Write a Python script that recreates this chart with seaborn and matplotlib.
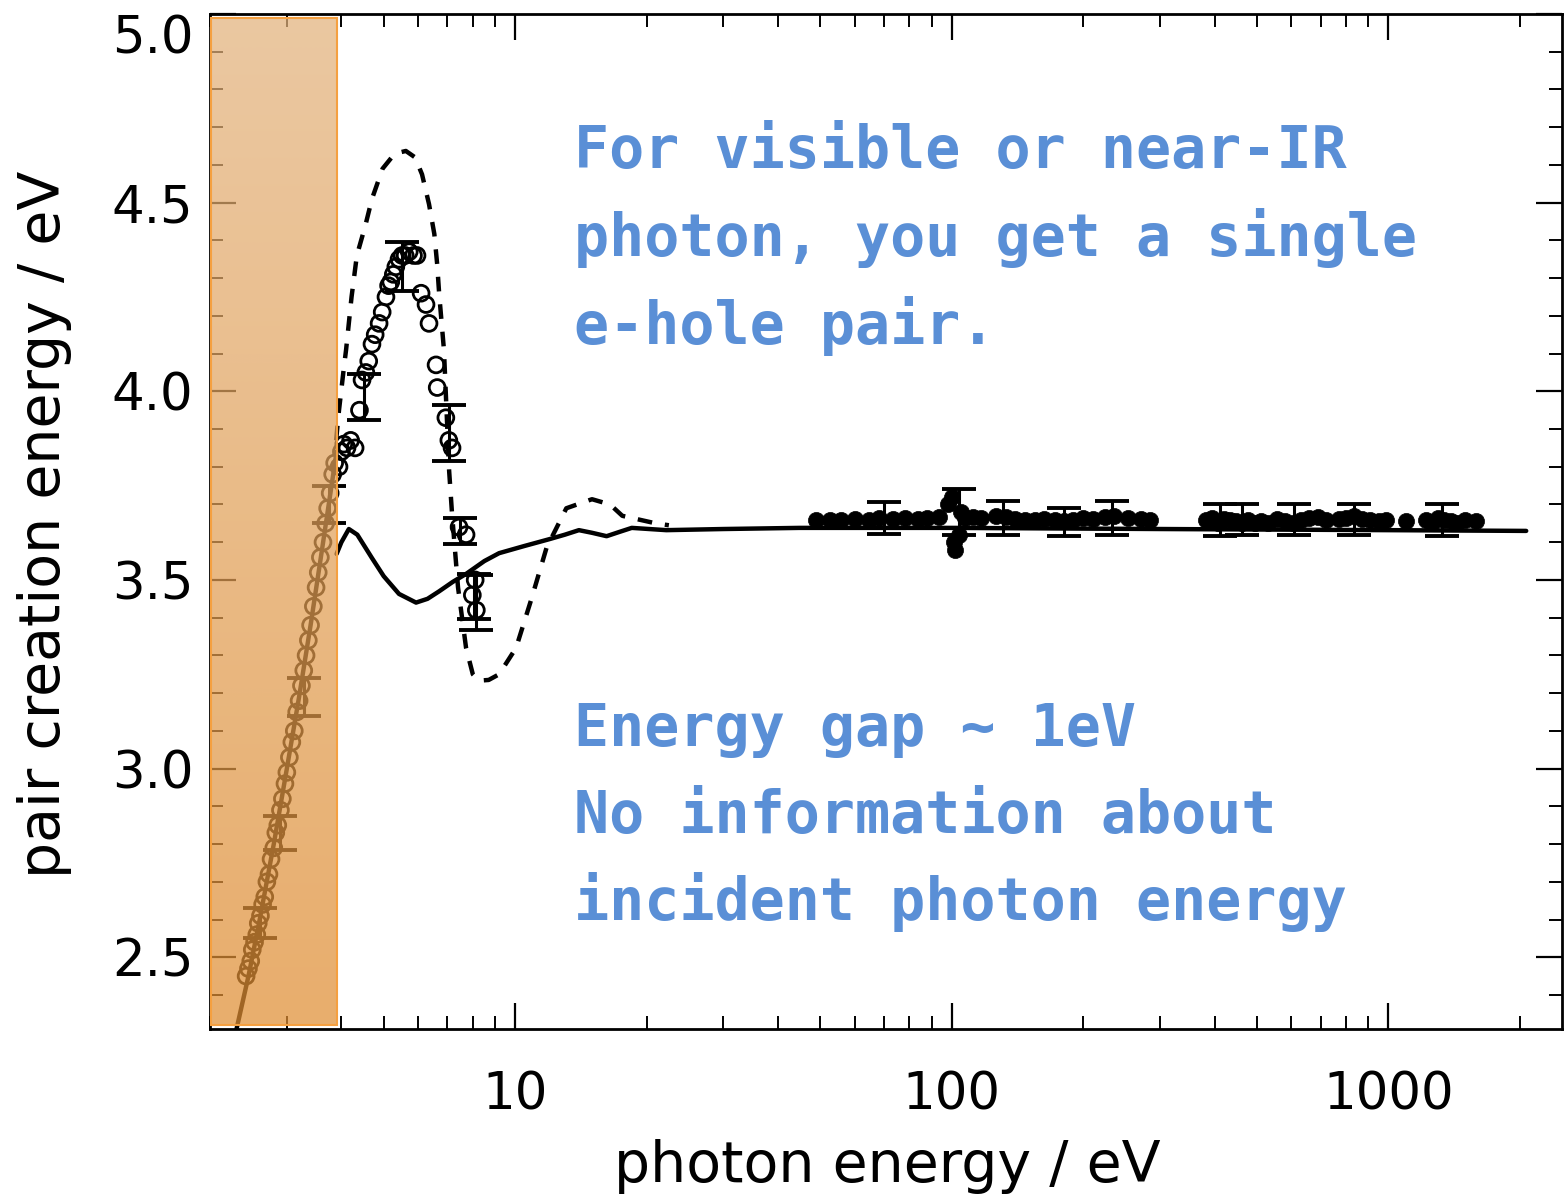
import numpy as np
import pandas as pd
import matplotlib
matplotlib.use("Agg")
import matplotlib.pyplot as plt
import seaborn as sns
from matplotlib.ticker import LogLocator, NullFormatter, MultipleLocator
from matplotlib.patches import Rectangle

# ---------------- data ----------------
# single-pair regime (pair energy ~ photon energy), inside the shaded band
gap_line_x = [2.27, 2.45, 2.6, 2.8, 3.0, 3.2, 3.4, 3.6, 3.9]
gap_line_y = [2.28, 2.45, 2.60, 2.80, 3.00, 3.19, 3.38, 3.57, 3.84]

# solid theory curve
theory_x = [3.9, 4.0, 4.16, 4.35, 4.7, 5.0, 5.42, 5.93, 6.3, 6.7, 7.2, 7.72, 8.5,
            9.19, 10.5, 11.97, 13.0, 14.0, 15.0, 16.2, 17.3, 18.5, 22.2, 30, 44.8,
            100, 300, 1000, 2070]
theory_y = [3.569, 3.60, 3.635, 3.62, 3.558, 3.51, 3.463, 3.44, 3.45, 3.47, 3.495, 3.516, 3.55,
            3.571, 3.59, 3.608, 3.62, 3.632, 3.625, 3.616, 3.627, 3.638, 3.632, 3.635, 3.638,
            3.638, 3.635, 3.632, 3.63]

# dashed theory curve
dashed_x = [3.89, 3.95, 4.05, 4.1, 4.22, 4.34, 4.54, 4.70, 4.97, 5.3, 5.62, 5.9, 6.12,
            6.35, 6.53, 6.63, 6.70, 6.87, 7.06, 7.17, 7.4, 7.72, 8.0, 8.26, 8.7, 9.19,
            10.05, 10.9, 11.8, 13.1, 15.0, 16.5, 17.6, 21.0, 22.5]
dashed_y = [3.87, 3.95, 4.06, 4.11, 4.25, 4.36, 4.44, 4.51, 4.59, 4.63, 4.637, 4.62, 4.575,
            4.496, 4.417, 4.336, 4.257, 4.11, 3.79, 3.675, 3.48, 3.32, 3.25, 3.233, 3.235, 3.25,
            3.32, 3.45, 3.585, 3.69, 3.714, 3.70, 3.67, 3.65, 3.645]

# open-circle measurements
open_x = [2.42, 2.45, 2.48, 2.50, 2.53, 2.56, 2.58, 2.61, 2.64, 2.67, 2.70, 2.73, 2.76,
          2.80, 2.83, 2.86, 2.90, 2.93, 2.97, 3.00, 3.04, 3.08, 3.12, 3.16, 3.20, 3.24,
          3.28, 3.32, 3.36, 3.40, 3.45, 3.50, 3.54, 3.58, 3.63, 3.68, 3.72, 3.77, 3.82,
          3.86, 3.95, 4.00, 4.05, 4.12, 4.20, 4.30, 4.40, 4.46, 4.55, 4.62, 4.70, 4.78,
          4.88, 4.96, 5.06, 5.13, 5.19, 5.26, 5.33, 5.42, 5.51, 5.60, 5.72, 5.85, 5.96,
          6.09, 6.25, 6.35, 6.59, 6.63, 6.94, 7.05, 7.17, 7.44, 7.72, 7.98, 8.10, 8.15]
open_y = [2.45, 2.47, 2.49, 2.52, 2.54, 2.56, 2.59, 2.61, 2.64, 2.66, 2.70, 2.72, 2.76,
          2.79, 2.83, 2.85, 2.89, 2.92, 2.96, 2.99, 3.03, 3.07, 3.10, 3.15, 3.18, 3.22,
          3.26, 3.30, 3.34, 3.38, 3.43, 3.48, 3.52, 3.56, 3.60, 3.65, 3.69, 3.73, 3.78,
          3.81, 3.80, 3.84, 3.86, 3.85, 3.87, 3.85, 3.95, 4.03, 4.05, 4.08, 4.125, 4.15,
          4.18, 4.21, 4.25, 4.28, 4.29, 4.31, 4.33, 4.35, 4.36, 4.36, 4.37, 4.36, 4.36,
          4.26, 4.23, 4.18, 4.07, 4.01, 3.93, 3.87, 3.85, 3.64, 3.62, 3.46, 3.50, 3.42]

# filled-circle measurements (high photon energy)
filled_x = [49, 52.6, 55.8, 60, 64.5, 68, 73.5, 78, 83.6, 88, 93.7, 98, 100.3, 101, 102,
            103.7, 105, 107, 112, 117, 126, 133, 140, 147, 155, 163, 172, 181, 190, 200,
            211, 225, 236, 254, 272, 284,
            383, 395, 408, 420, 433, 447, 462, 478, 495, 512, 530, 555, 580, 605, 630,
            660, 690, 720, 770, 800, 835, 870, 910, 950, 990, 1100, 1220, 1260, 1300,
            1340, 1390, 1440, 1500, 1590]
filled_y = [3.660, 3.658, 3.660, 3.662, 3.660, 3.664, 3.662, 3.665, 3.662, 3.664, 3.666, 3.700,
            3.720, 3.600, 3.580, 3.620, 3.680, 3.665, 3.668, 3.664, 3.670, 3.668, 3.662, 3.660,
            3.658, 3.662, 3.660, 3.656, 3.660, 3.664, 3.662, 3.666, 3.670, 3.665, 3.662, 3.660,
            3.660, 3.665, 3.650, 3.662, 3.660, 3.655, 3.650, 3.660, 3.652, 3.655, 3.650, 3.662,
            3.655, 3.650, 3.660, 3.665, 3.668, 3.660, 3.662, 3.665, 3.670, 3.662, 3.660, 3.655,
            3.660, 3.655, 3.660, 3.652, 3.665, 3.660, 3.655, 3.650, 3.660, 3.655]

# error bars
err_x = [2.60, 2.89, 3.28, 3.75, 4.50, 5.51, 7.06, 7.48, 8.05, 8.15,
         70, 104, 131, 181, 233, 412, 463, 608, 835, 1330]
err_y = [2.59, 2.83, 3.19, 3.70, 3.985, 4.33, 3.89, 3.63, 3.457, 3.44,
         3.665, 3.68, 3.665, 3.653, 3.665, 3.658, 3.66, 3.66, 3.66, 3.658]
err_e = [0.040, 0.045, 0.050, 0.050, 0.060, 0.065, 0.075, 0.035, 0.060, 0.072,
         0.042, 0.062, 0.045, 0.037, 0.045, 0.042, 0.040, 0.040, 0.040, 0.042]

shade_range = [2.0, 3.9]
x_limits = [2.0, 2500]
y_limits = [2.31, 5.0]
xtick_vals = [10, 100, 1000]
xtick_labels = ["10", "100", "1000"]
ytick_vals = [2.5, 3.0, 3.5, 4.0, 4.5, 5.0]
ytick_labels = ["2.5", "3.0", "3.5", "4.0", "4.5", "5.0"]

note_top = ["For visible or near-IR", "photon, you get a single", "e-hole pair."]
note_bottom = ["Energy gap ~ 1eV", "No information about", "incident photon energy"]

# ---------------- style ----------------
sns.set_style("ticks")
plt.rcParams["font.family"] = ["DejaVu Sans"]
plt.rcParams["text.color"] = "black"
plt.rcParams["axes.labelcolor"] = "black"

fig = plt.figure(figsize=(15.67, 11.97), dpi=100)
ax = fig.add_axes([0.134, 0.1404, 0.8628, 0.8479])

lw = 3.2
sns.lineplot(x=gap_line_x, y=gap_line_y, ax=ax, color="black", lw=lw, sort=False,
             estimator=None, zorder=3)
sns.lineplot(x=theory_x, y=theory_y, ax=ax, color="black", lw=lw, sort=False,
             estimator=None, zorder=3)
sns.lineplot(x=dashed_x, y=dashed_y, ax=ax, color="black", lw=lw, sort=False,
             estimator=None, linestyle=(0, (3.3, 2.9)), zorder=3)

ax.errorbar(err_x, err_y, yerr=err_e, fmt="none", ecolor="black", elinewidth=2.2,
            capsize=12, capthick=2.8, zorder=3)

sns.scatterplot(x=open_x, y=open_y, ax=ax, marker="o", s=130, facecolors="none",
                edgecolor="black", linewidth=2.0, zorder=4)
sns.scatterplot(x=filled_x, y=filled_y, ax=ax, marker="o", s=135, color="black",
                edgecolor="black", linewidth=0.5, zorder=4)

# shaded orange overlay (semi-transparent gradient)
top_c = np.array([227, 178, 124]) / 255.0
bot_c = np.array([224, 142, 51]) / 255.0
n = 256
t = np.linspace(0, 1, n)[:, None]
rgb = top_c[None, :] * (1 - t) + bot_c[None, :] * t
rgba = np.concatenate([rgb, np.full((n, 1), 0.72)], axis=1)[:, None, :]
ax.imshow(rgba, extent=[shade_range[0], shade_range[1], y_limits[0] + 0.01, y_limits[1] - 0.01],
          aspect="auto", origin="upper", zorder=5, interpolation="bilinear")
ax.add_patch(Rectangle((shade_range[0] * 1.003, y_limits[0] + 0.01),
                       shade_range[1] - shade_range[0] * 1.003, y_limits[1] - y_limits[0] - 0.02,
                       fill=False, edgecolor="#F5A040", lw=1.5, zorder=6))

ax.set_xscale("log")
ax.set_xlim(*x_limits)
ax.set_ylim(*y_limits)
ax.set_xticks(xtick_vals, labels=xtick_labels)
ax.xaxis.set_minor_locator(LogLocator(base=10, subs=np.arange(2, 10)))
ax.xaxis.set_minor_formatter(NullFormatter())
ax.set_yticks(ytick_vals, labels=ytick_labels)
ax.yaxis.set_minor_locator(MultipleLocator(0.1))

ax.tick_params(which="both", direction="in", top=True, right=True, color="black",
               labelcolor="black")
ax.tick_params(which="major", length=19, width=1.6, labelsize=37)
ax.tick_params(which="minor", length=9.5, width=1.4)
ax.tick_params(axis="x", which="major", pad=30)
ax.tick_params(axis="y", which="major", pad=12)
for sp in ax.spines.values():
    sp.set_linewidth(2.0)
    sp.set_color("black")

ylabels = ax.get_yticklabels()
ylabels[-1].set_verticalalignment("top")

ax.set_xlabel("photon energy / eV", fontsize=41, color="black")
ax.set_ylabel("pair creation energy / eV", fontsize=41, color="black")
ax.xaxis.set_label_coords(0.5007, -0.108)
ax.yaxis.set_label_coords(-0.102, 0.497)

blue = "#5A8FD6"
tx = 0.366
for yy, s in zip([0.8596, 0.7861, 0.7126], note_top):
    fig.text(tx, yy, s, color=blue, fontsize=42, family="DejaVu Sans Mono",
             fontweight="bold", va="baseline", ha="left")
for yy, s in zip([0.3768, 0.3041, 0.2314], note_bottom):
    fig.text(tx, yy, s, color=blue, fontsize=42, family="DejaVu Sans Mono",
             fontweight="bold", va="baseline", ha="left")

fig.savefig("out.png", dpi=100)
